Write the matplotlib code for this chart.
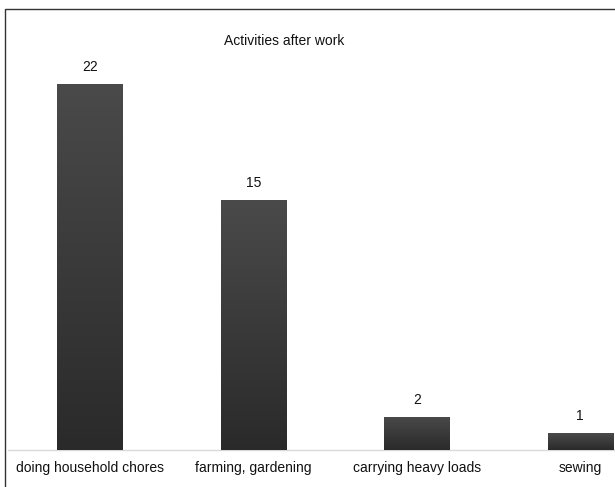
import matplotlib

matplotlib.use("Agg")
import matplotlib.pyplot as plt  # noqa: E402
import numpy as np  # noqa: E402
from matplotlib.colors import LinearSegmentedColormap  # noqa: E402
from matplotlib.patches import Rectangle  # noqa: E402

plt.rcParams["font.family"] = ["Liberation Sans", "DejaVu Sans"]

CATEGORIES = ["doing household chores", "farming, gardening",
              "carrying heavy loads", "sewing"]
COUNTS = [22, 15, 2, 1]
TITLE = "Activities after work"

W, H = 615, 487
fig = plt.figure(figsize=(W / 100, H / 100), dpi=100)
fig.patch.set_facecolor("white")

# plot area runs past the right edge, like the source frame
ax = fig.add_axes([8 / W, 37 / H, 654 / W, 416 / H])
ax.set_xlim(-0.5, 3.5)
ax.set_ylim(0, 25)
for side in ("top", "right", "left"):
    ax.spines[side].set_visible(False)
ax.spines["bottom"].set_color("#d9d9d9")
ax.spines["bottom"].set_linewidth(1.0)
ax.set_yticks([])
ax.set_xticks(range(len(CATEGORIES)))
ax.set_xticklabels(CATEGORIES, fontsize=10, color="#111111")
ax.tick_params(axis="x", length=0, pad=8)

cmap = LinearSegmentedColormap.from_list("bar", ["#2a2a2a", "#4a4a4a"])
grad = np.linspace(0, 1, 256).reshape(-1, 1)
width = 0.4
bars = ax.bar(range(len(CATEGORIES)), COUNTS, width=width, color="#333333",
              linewidth=0, zorder=2)
for b, v in zip(bars, COUNTS):
    x0 = b.get_x()
    im = ax.imshow(grad, cmap=cmap, aspect="auto", origin="lower",
                   extent=[x0, x0 + width, 0, v], zorder=3)
    im.set_clip_path(b)
    ax.text(b.get_x() + width / 2, v + 0.6, f"{v}", ha="center",
            va="bottom", fontsize=10, color="#111111")
ax.set_xlim(-0.5, 3.5)
ax.set_ylim(0, 25)

fig.text(284 / W, 1 - 41 / H, TITLE, ha="center", va="center",
         fontsize=10, color="#111111")

# outer chart border (only left and top edges fall inside the image)
fig.add_artist(Rectangle((5 / W, -0.1), 1.2, (H - 9) / H + 0.1 - 0.0,
                         transform=fig.transFigure, fill=False,
                         edgecolor="#333333", linewidth=1.0))

fig.savefig("out.png", dpi=100, facecolor="white")
